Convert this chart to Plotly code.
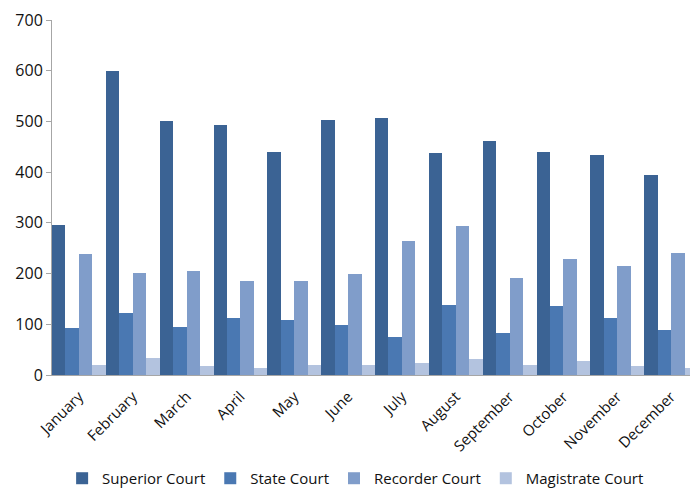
import plotly.graph_objects as go

months = ["January", "February", "March", "April", "May", "June", "July",
          "August", "September", "October", "November", "December"]
superior = [295, 600, 501, 493, 440, 502, 507, 437, 461, 440, 433, 394]
state = [92, 122, 95, 112, 109, 99, 75, 139, 82, 136, 113, 88]
recorder = [238, 202, 205, 186, 185, 200, 264, 294, 192, 229, 214, 241]
magistrate = [20, 34, 17, 14, 20, 20, 23, 31, 19, 28, 17, 14]

series = [("Superior Court", superior, "#3B6394"),
          ("State Court", state, "#4A78B2"),
          ("Recorder Court", recorder, "#809DCA"),
          ("Magistrate Court", magistrate, "#B3C3DF")]

fig = go.Figure()
for name, vals, color in series:
    fig.add_trace(go.Bar(x=months, y=vals, name=name, marker=dict(color=color, line=dict(width=0))))

fig.update_layout(
    width=690, height=487,
    margin=dict(l=44, r=0, t=12, b=118),
    barmode="group", bargap=0, bargroupgap=0,
    plot_bgcolor="white", paper_bgcolor="white",
    font=dict(family="Open Sans, Liberation Sans, sans-serif", color="#111", size=14),
    legend=dict(orientation="h", x=0.47, xanchor="center", y=-0.245, yanchor="top",
                font=dict(size=15), traceorder="normal", itemwidth=30),
    showlegend=True,
)
fig.update_xaxes(showline=True, linecolor="#A6A6A6", linewidth=1, tickangle=-45,
                 ticks="", tickfont=dict(size=15), showgrid=False, automargin=False,
                 ticklabelstandoff=6)
fig.update_yaxes(range=[0, 700], dtick=100, showline=True, linecolor="#A6A6A6", linewidth=1,
                 ticks="outside", ticklen=5, tickcolor="#A6A6A6", showgrid=False,
                 tickfont=dict(size=16), zeroline=False, automargin=False,
                 ticklabeloverflow="allow")

fig.write_html("out.html")
